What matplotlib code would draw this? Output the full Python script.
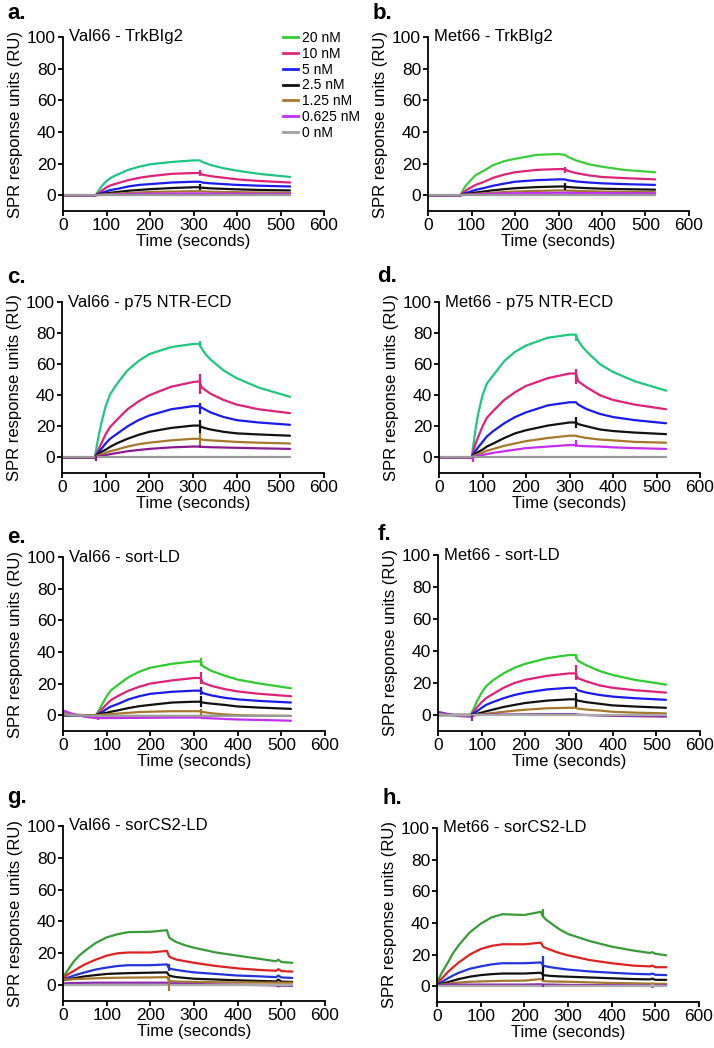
import matplotlib
matplotlib.use("Agg")
import matplotlib.pyplot as plt
from matplotlib.lines import Line2D

plt.rcParams['font.family'] = ['Liberation Sans', 'DejaVu Sans']

# concentraciones (leyenda)
conc_labels = ['20 nM', '10 nM', '5 nM', '2.5 nM', '1.25 nM', '0.625 nM', '0 nM']
legend_colors = ['#33cc33', '#e02a78', '#2222ff', '#111111', '#a87832', '#c030f0', '#a0a0a0']

# tiempos (s) para paneles a-f (inyeccion ~75-315 s)
t_inj = [0, 25, 50, 75, 80, 85, 90, 100, 110, 125, 150, 175, 200, 250, 300, 315, 320, 330, 340, 370, 400, 450, 522]
# tiempos (s) para paneles g-h (inyeccion 0-240 s)
t_cs2 = [0, 10, 25, 37, 50, 75, 100, 125, 150, 200, 238, 243, 250, 260, 280, 300, 350, 400, 450, 488, 493, 500, 525]

zeros = [0] * 23

# a. Val66 - TrkBIg2
vals_a = [
    [0, 0, 0, 0, 2, 4.2, 6, 9, 11, 13, 16, 18, 19.5, 21, 22, 22, 21, 20, 19, 17, 15.5, 13.5, 11.5],
    [0, 0, 0, 0, 1, 2, 3, 5, 6.3, 7.5, 9.5, 11, 12, 13.5, 14, 14, 13, 12.5, 12, 11, 10, 9, 8],
    [0, 0, 0, 0, 0.5, 1, 1.5, 2.5, 3.3, 4, 5.5, 6.5, 7, 8, 8.5, 8.5, 8, 7.7, 7.5, 7, 6.5, 6, 5.5],
    [0, 0, 0, 0, 0.3, 0.5, 0.8, 1.2, 1.6, 2, 2.8, 3.3, 3.8, 4.5, 5, 5, 4.7, 4.5, 4.3, 4, 3.7, 3.3, 3],
    [0, 0, 0, 0, 0.2, 0.3, 0.4, 0.6, 0.8, 1, 1.4, 1.7, 2, 2.3, 2.5, 2.5, 2.4, 2.3, 2.2, 2, 1.9, 1.7, 1.5],
    [0, 0, 0, 0, 0.1, 0.15, 0.2, 0.3, 0.4, 0.5, 0.7, 0.8, 0.9, 1, 1.1, 1.1, 1, 1, 1, 0.9, 0.9, 0.8, 0.8],
    zeros,
]
# b. Met66 - TrkBIg2
vals_b = [
    [0, 0, 0, 0, 3, 5.2, 7, 10, 12.8, 15, 19, 21.5, 23, 25.5, 26, 25.5, 24.5, 23.2, 22, 19.5, 18, 16, 14.5],
    [0, 0, 0, 0, 1.5, 2.5, 3.5, 5, 6.6, 8, 11, 13, 14.5, 16, 16.5, 16.5, 15.5, 14.7, 14, 12.5, 11.5, 10.8, 10],
    [0, 0, 0, 0, 0.7, 1.2, 1.6, 2.5, 3.4, 4.3, 6, 7.3, 8.5, 9.5, 10, 10, 9.5, 9.1, 8.7, 8, 7.5, 7, 6.5],
    [0, 0, 0, 0, 0.3, 0.55, 0.8, 1.2, 1.7, 2.2, 3.1, 3.8, 4.4, 5.1, 5.5, 5.5, 5.2, 5, 4.8, 4.4, 4.1, 3.8, 3.5],
    [0, 0, 0, 0, 0.2, 0.3, 0.4, 0.6, 0.85, 1.1, 1.6, 2, 2.3, 2.7, 3, 3, 2.9, 2.8, 2.7, 2.5, 2.3, 2.1, 2],
    [0, 0, 0, 0, 0.1, 0.2, 0.3, 0.4, 0.55, 0.7, 0.9, 1.1, 1.2, 1.4, 1.5, 1.5, 1.5, 1.45, 1.4, 1.3, 1.3, 1.2, 1.2],
    zeros,
]
# c. Val66 - p75 NTR-ECD
vals_c = [
    [0, 0, 0, 0, 8, 15.5, 22, 33, 40.5, 47, 56, 62, 66.5, 71, 73, 73, 70, 66, 63, 56, 51, 45, 39],
    [0, 0, 0, 0, 3, 6, 9, 15, 19.5, 24, 31, 36, 40, 45.5, 48.5, 49, 45, 43, 41, 37, 34, 31, 28.5],
    [0, 0, 0, 0, 2, 3.8, 5.5, 9, 12, 15, 20, 24, 27, 31, 33, 33, 32, 30.5, 29, 26, 24, 22.5, 21],
    [0, 0, 0, 0, 1.5, 2.5, 3.5, 5, 6.8, 9, 12, 14.5, 16.5, 19, 20.5, 20.5, 19.5, 18.7, 18, 16.5, 15.5, 14.8, 14],
    [0, 0, 0, 0, 1, 1.5, 2, 3, 4, 5, 7, 8.5, 9.5, 11, 12, 12, 11.5, 11.2, 11, 10.5, 10, 9.5, 9],
    [0, 0, 0, 0, 0.5, 0.75, 1, 1.5, 2.1, 2.8, 4, 4.8, 5.5, 6.5, 7, 7, 6.8, 6.7, 6.6, 6.4, 6.2, 5.9, 5.5],
    zeros,
]
# d. Met66 - p75 NTR-ECD
vals_d = [
    [0, 0, 0, 0, 10, 20, 28, 40, 47.5, 53, 62, 68, 72, 77, 79, 79, 75, 71, 68, 60, 55, 49, 43],
    [0, 0, 0, 0, 5, 9.5, 13, 20, 25.5, 30, 37, 42, 46, 51, 54, 54, 49, 47, 45, 40, 37, 34, 31],
    [0, 0, 0, 0, 2.5, 4.6, 6.5, 10, 13.5, 17, 22, 26, 29, 33.5, 35.5, 35.5, 34, 32.5, 31, 28, 26, 24, 22],
    [0, 0, 0, 0, 1.5, 2.5, 3.5, 5, 7, 9, 12.5, 15.5, 17.5, 20.5, 22.5, 22.5, 21.5, 20.7, 20, 18, 17, 16, 15],
    [0, 0, 0, 0, 1, 1.5, 2, 3, 4.3, 5.5, 7.5, 9, 10.5, 12.5, 14, 14, 13.5, 13, 12.5, 11.5, 11, 10, 9.5],
    [0, 0, 0, 0, 0.5, 0.75, 1, 1.5, 2.2, 3, 4, 5, 6, 7, 8, 8, 7.5, 7.3, 7.2, 7, 6.5, 6, 5.5],
    zeros,
]
# e. Val66 - sort-LD
vals_e = [
    [0, 0, 0, 0, 2, 4.5, 7, 12, 15.8, 19, 24, 27.5, 30, 32.5, 34, 34, 31, 29.5, 28, 25, 22.5, 20, 17],
    [0, 0, 0, 0, 1, 2.5, 4, 7, 9.6, 12, 15.5, 18, 20, 22, 23.5, 23.5, 20.5, 19.5, 18.5, 16.5, 15, 13.5, 12],
    [0, 0, 0, 0, 0.5, 1.2, 2, 4, 5.5, 7, 10, 12, 13.5, 14.8, 15.5, 15.5, 14, 13.2, 12.5, 11, 10, 9, 8],
    [0, 0, 0, 0, 0.5, 0.7, 1, 1.5, 2.2, 3, 4.5, 5.7, 6.5, 8, 8.5, 8.5, 8, 7.6, 7.3, 6.5, 5.5, 4.8, 4],
    [1.5, 0.5, 0, 0, 0, 0.15, 0.3, 0.5, 0.7, 1, 1.5, 2, 2.2, 2.5, 2.5, 2.5, 2, 1.6, 1.2, 0.5, 0, -0.3, -0.5],
    [3, 0.5, -1, -1.8, -1.8, -1.8, -1.8, -1.8, -1.8, -1.8, -1.7, -1.7, -1.6, -1.5, -1.5, -1.5, -1.8, -1.9, -2,
     -2.4, -2.7, -3, -3.5],
    [0.5, 0, -0.3, -0.4, -0.4, -0.4, -0.4, -0.4, -0.4, -0.4, -0.4, -0.4, -0.4, -0.4, -0.4, -0.4, -0.4, -0.4,
     -0.4, -0.4, -0.4, -0.4, -0.4],
]
# f. Met66 - sort-LD
vals_f = [
    [0, 0, 0, 0, 3, 6, 9, 14, 18, 21.5, 26, 29.5, 32, 35.5, 37.5, 37.5, 34, 32.5, 31, 27.5, 25, 22, 19],
    [0, 0, 0, 0, 1.5, 3.3, 5, 8, 10.5, 13, 17, 20, 22, 24.5, 26, 26, 23, 22, 21, 18.5, 17, 15.5, 14],
    [0, 0, 0, 0, 1, 1.7, 2.5, 4.5, 6.3, 8, 10.5, 12.5, 14, 16, 17, 17, 15.5, 14.7, 14, 12.5, 11.5, 10.5, 9.5],
    [0, 0, 0, 0, 0.3, 0.5, 0.8, 1.5, 2.3, 3.3, 5, 6.3, 7.5, 9, 9.8, 9.8, 9, 8.5, 8, 7, 6, 5.3, 4.5],
    [0, 0, 0, 0, 0, 0.1, 0.2, 0.5, 0.8, 1.2, 2, 2.7, 3.3, 4.2, 4.5, 4.5, 4, 3.7, 3.4, 2.8, 2, 1.5, 1],
    [2, 0.5, -0.7, -1, -0.5, -0.2, 0, 0.2, 0.25, 0.3, 0.3, 0.4, 0.4, 0.5, 0.5, 0.5, 0.2, 0.1, 0, -0.3, -0.5,
     -0.7, -1],
    [0.5, 0, -0.2, -0.2, 0, 0, 0, 0, 0, 0, 0, 0, 0, 0, 0, 0, 0, 0, 0, 0, 0, 0, 0],
]
# g. Val66 - sorCS2-LD
vals_g = [
    [5, 9, 15, 18.5, 21.5, 26.5, 30, 32, 33.3, 33.5, 34.5, 30, 28.5, 27, 25, 23.5, 20.5, 18.5, 16.5, 15, 16, 14.5, 14],
    [4, 6.5, 9, 11, 13, 16, 18.5, 20, 20.5, 20.5, 21.5, 18, 17, 16, 15, 14, 12, 10.5, 9.5, 9, 10, 8.8, 8.5],
    [3, 4.5, 6, 7, 8, 9.8, 11, 12, 12.5, 12.5, 13, 10.5, 10, 9.5, 8.7, 8, 7, 6, 5.5, 5, 6, 4.8, 4.5],
    [3, 3.5, 4.3, 4.9, 5.5, 6.3, 7, 7.3, 7.5, 7.8, 8, 6, 5.5, 5, 4.5, 4, 3.5, 3, 2.6, 2.3, 3.5, 2.2, 2],
    [3.5, 3.5, 3.7, 3.85, 4, 4.3, 4.5, 4.6, 4.7, 4.8, 5, 2.5, 2.4, 2.2, 2.1, 2, 1.8, 1.7, 1.6, 1.5, 1.5, 1.5, 1.5],
    [1, 1.2, 1.3, 1.35, 1.4, 1.5, 1.5, 1.5, 1.5, 1.5, 1.5, 1.2, 1.1, 1, 0.85, 0.7, 0.4, 0.2, 0, -0.2, -0.8,
     -0.3, -0.5],
    zeros,
]
# h. Met66 - sorCS2-LD
vals_h = [
    [2, 8, 15, 21, 26, 34, 39.5, 43.5, 45.5, 45, 47, 44, 42, 40, 36, 33, 28.5, 25, 22.5, 21, 21.5, 20.5, 19.5],
    [1.5, 4.5, 9, 12, 15, 20, 23.5, 25.5, 26.5, 26.5, 27.5, 25, 24, 23, 21, 19.5, 16.5, 14.5, 13, 12.5, 13, 12, 12],
    [1, 2.5, 5, 6.8, 8.5, 11, 12.5, 13.8, 14.5, 14.5, 15, 13, 12.5, 12, 11.2, 10.5, 9.3, 8.5, 7.8, 7.5, 8, 7.2, 7],
    [0.5, 1.5, 2.5, 3.5, 4.5, 6, 7, 7.6, 8, 8, 8.5, 7, 6.8, 6.5, 6.2, 6, 5.5, 5, 4.5, 4.3, 4.8, 4, 4],
    [0.5, 1, 1.5, 1.9, 2.3, 2.8, 3, 3.2, 3.4, 3.5, 4.5, 3.2, 3.1, 3, 2.9, 2.8, 2.4, 2, 1.8, 1.6, 1.7, 1.5, 1.5],
    [0.5, 0.8, 1, 1, 1, 1, 1, 1, 1, 1, 1.2, 1, 1, 1, 0.9, 0.8, 0.7, 0.6, 0.5, 0.5, -0.5, 0.5, 0.5],
    zeros,
]

# picos de inyeccion: (indice de serie, tiempo, minimo, maximo)
spikes_a = [(1, 316, 12, 16), (3, 316, 3, 7)]
spikes_b = [(1, 316, 14, 18), (3, 316, 3, 8)]
spikes_c = [(0, 316, 71, 75), (1, 316, 41, 54), (2, 316, 28, 35), (3, 316, 16, 24),
            (4, 316, 8, 16), (5, 316, 6, 8), (5, 78, -2.5, 1)]
spikes_d = [(0, 316, 75, 79), (1, 316, 47, 57), (3, 316, 19, 26), (5, 316, 7, 11), (5, 78, -3, 0)]
spikes_e = [(0, 316, 31, 36), (1, 316, 20, 27), (2, 316, 13, 18), (3, 316, 5, 12),
            (4, 316, 0, 4), (5, 80, -3, -1)]
spikes_f = [(0, 316, 35, 38), (1, 316, 22, 31), (3, 316, 5, 14), (5, 78, -4, 0)]
spikes_g = [(4, 242, -4, 5), (2, 242, 9, 13)]
spikes_h = [(0, 242, 44, 49), (2, 242, 13, 19), (3, 242, 4, 13), (5, 242, -0.5, 1.5)]

pink = '#dd2277'
colors_a = ['#20c583', pink, '#1a1aee', '#111111', '#a6782e', '#c42ef0', '#999999']
colors_b = ['#3ccc3c', pink, '#1a1aee', '#111111', '#a6782e', '#c42ef0', '#999999']
colors_c = ['#1ec87c', pink, '#1a1aee', '#111111', '#a6782e', '#8b1a90', '#999999']
colors_d = ['#1ec87c', pink, '#1a1aee', '#111111', '#a6782e', '#c42ef0', '#999999']
colors_e = ['#2ecc2e', pink, '#1a1aee', '#111111', '#a6782e', '#c42ef0', '#999999']
colors_f = ['#2ecc2e', pink, '#1a1aee', '#111111', '#a6782e', '#8b2aa8', '#aaaaaa']
colors_gh = ['#3a9a3a', '#dd2222', '#2233dd', '#111111', '#a6782e', '#8a2aaa', '#aaaaaa']

W, H = 714, 1048
fig = plt.figure(figsize=(W / 100, H / 100), dpi=100)

# paneles: letra, titulo, rect en pixeles (izq, arriba, ancho, alto), tiempos, valores, colores, picos, letra xy
panels = [
    ('a.', 'Val66 - TrkBIg2', (63, 37, 261, 174), t_inj, vals_a, colors_a, spikes_a, (7, 3)),
    ('b.', 'Met66 - TrkBIg2', (428, 37, 261, 174), t_inj, vals_b, colors_b, spikes_b, (373, 3)),
    ('c.', 'Val66 - p75 NTR-ECD', (62, 302, 262, 171), t_inj, vals_c, colors_c, spikes_c, (7, 267)),
    ('d.', 'Met66 - p75 NTR-ECD', (439, 302, 261, 171), t_inj, vals_d, colors_d, spikes_d, (377, 266)),
    ('e.', 'Val66 - sort-LD', (63, 557, 262, 174), t_inj, vals_e, colors_e, spikes_e, (7, 527)),
    ('f.', 'Met66 - sort-LD', (438, 555, 262, 176), t_inj, vals_f, colors_f, spikes_f, (378, 524)),
    ('g.', 'Val66 - sorCS2-LD', (63, 826, 262, 175), t_cs2, vals_g, colors_gh, spikes_g, (7, 787)),
    ('h.', 'Met66 - sorCS2-LD', (437, 828, 262, 174), t_cs2, vals_h, colors_gh, spikes_h, (382, 788)),
]

for letter, title, (l, top, w, h), tt, vals, cols, spikes, (lx, ly) in panels:
    ax = fig.add_axes([l / W, 1 - (top + h) / H, w / W, h / H])
    for serie, c in zip(vals, cols):
        ax.plot(tt, serie, color=c, lw=1.6, solid_capstyle='round', solid_joinstyle='round')
    for idx, ts, lo, hi in spikes:
        ax.vlines(ts, lo, hi, colors=cols[idx], lw=1.6)
    ax.set_xlim(0, 600)
    ax.set_ylim(-10, 100)
    ax.set_xticks([0, 100, 200, 300, 400, 500, 600])
    ax.set_yticks([0, 20, 40, 60, 80, 100])
    for s in ['top', 'right']:
        ax.spines[s].set_visible(False)
    for s in ['left', 'bottom']:
        ax.spines[s].set_linewidth(1.3)
    ax.tick_params(direction='out', length=3.5, width=1.3, labelsize=12.5, pad=1.5)
    ax.set_xlabel('Time (seconds)', fontsize=12, labelpad=1)
    ax.set_ylabel('SPR response units (RU)', fontsize=12, labelpad=3)
    ax.text(14, 100, title, fontsize=12, va='center', ha='left')
    fig.text(lx / W, 1 - ly / H, letter, fontsize=16, fontweight='bold', va='top', ha='left')

    if letter == 'a.':
        handles = [Line2D([0], [0], color=c, lw=2) for c in legend_colors]
        ax.legend(handles, conc_labels, loc='upper left', frameon=False, fontsize=10,
                  bbox_to_anchor=(283 / W, 1 - 31 / H), bbox_transform=fig.transFigure,
                  borderpad=0, borderaxespad=0, handlelength=1.1, handletextpad=0.3,
                  labelspacing=0.13)

fig.savefig('out.png', dpi=100)
